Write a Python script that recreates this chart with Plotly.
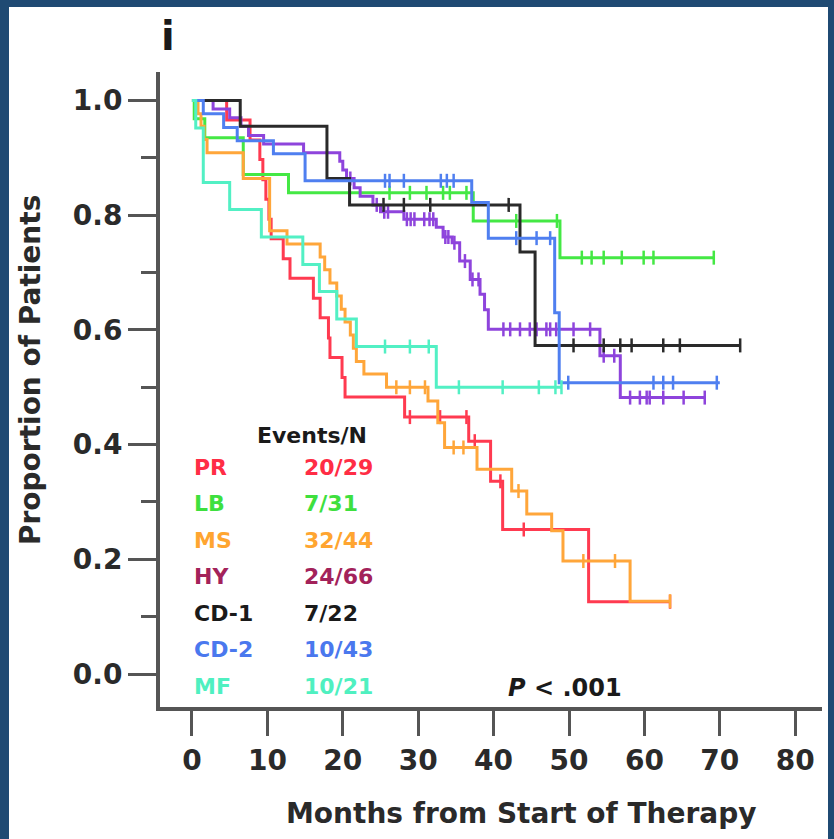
import plotly.graph_objects as go

# ---------------- data ----------------
groups = ["PR", "LB", "MS", "HY", "CD-1", "CD-2", "MF"]
events_n = ["20/29", "7/31", "32/44", "24/66", "7/22", "10/43", "10/21"]

pr_t = [4.6, 7.7, 9.0, 9.4, 9.8, 10.2, 10.5, 12.1, 13.0, 16.1, 17.0, 18.1, 18.3, 19.9, 20.3, 28.2, 36.7, 39.6, 41.2, 52.6]
pr_s = [0.966, 0.931, 0.897, 0.862, 0.828, 0.793, 0.759, 0.724, 0.690, 0.655, 0.621, 0.586, 0.552, 0.517, 0.483, 0.448, 0.406, 0.336, 0.252, 0.126]
pr_end = 63.4
pr_cens = [28.9, 32.9, 36.4, 37.5, 40.9, 44.0, 63.4]

lb_t = [0.3, 1.7, 6.8, 12.8, 37.3, 48.8]
lb_s = [0.968, 0.935, 0.871, 0.839, 0.790, 0.726]
lb_end = 69.2
lb_cens = [26.2, 28.9, 31.1, 33.3, 34.2, 36.4, 43.0, 48.4, 51.7, 53.0, 54.6, 57.0, 59.9, 61.2, 69.2]

ms_t = [0.8, 1.2, 1.6, 2.0, 6.8, 10.3, 12.6, 17.0, 17.6, 18.3, 19.2, 19.8, 20.3, 21.0, 21.4, 21.8, 22.8, 25.8,
        31.3, 32.6, 33.5, 37.8, 42.4, 44.4, 47.7, 49.2, 58.1]
ms_s = [0.977, 0.955, 0.932, 0.909, 0.864, 0.773, 0.750, 0.727, 0.705, 0.682, 0.659, 0.636, 0.614, 0.591, 0.568, 0.545, 0.523, 0.500,
        0.476, 0.438, 0.395, 0.357, 0.319, 0.279, 0.250, 0.197, 0.127]
ms_end = 63.4
ms_cens = [27.1, 28.9, 30.9, 34.7, 36.0, 43.3, 51.9, 56.1, 63.4]

hy_t = [2.8, 5.0, 6.5, 7.5, 9.5, 14.8, 19.6, 20.0, 20.5, 21.5, 22.3, 24.0, 25.0, 28.1, 32.4, 33.3, 34.5, 35.5, 36.9, 38.2, 38.8, 39.3, 54.1, 56.8]
hy_s = [0.985, 0.970, 0.955, 0.939, 0.924, 0.909, 0.894, 0.879, 0.864, 0.848, 0.833, 0.818, 0.806, 0.793, 0.779, 0.762, 0.752, 0.720, 0.688, 0.662, 0.635, 0.601, 0.555, 0.482]
hy_end = 68.0
hy_cens = [21.0, 24.5, 25.5, 26.0, 28.5, 29.0, 29.5, 30.8, 31.5, 32.0, 33.6, 34.0, 34.8, 36.2, 37.2, 38.0, 41.3, 42.2, 43.5, 44.8,
           45.7, 47.0, 47.5, 48.3, 50.6, 52.8, 54.6, 56.0, 58.1, 59.4, 60.3, 60.7, 62.5, 65.2, 68.0]

cd1_t = [6.4, 17.9, 20.9, 43.5, 45.5]
cd1_s = [0.955, 0.864, 0.818, 0.736, 0.573]
cd1_end = 72.7
cd1_cens = [25.4, 28.1, 31.6, 42.0, 50.6, 54.6, 56.8, 58.3, 62.5, 64.7, 72.7]

cd2_t = [1.5, 4.2, 6.0, 10.8, 15.0, 37.1, 39.3, 48.1, 48.7]
cd2_s = [0.977, 0.953, 0.930, 0.907, 0.860, 0.822, 0.760, 0.630, 0.508]
cd2_end = 70.0
cd2_cens = [25.6, 26.2, 28.1, 33.0, 33.8, 34.7, 43.0, 45.7, 47.5, 49.9, 61.2, 62.5, 63.8, 69.6]

mf_t = [0.5, 1.5, 5.0, 9.2, 14.7, 16.9, 19.2, 21.8, 32.4]
mf_s = [0.952, 0.857, 0.810, 0.762, 0.714, 0.667, 0.619, 0.571, 0.500]
mf_end = 49.0
mf_cens = [25.6, 28.9, 31.4, 35.4, 41.2, 46.0, 48.2, 49.0]

x_ticks = [0, 10, 20, 30, 40, 50, 60, 70, 80]
y_ticks = [0.0, 0.2, 0.4, 0.6, 0.8, 1.0]

# ---------------- styles ----------------
line_colors = ["#ff3a50", "#44e844", "#ffa63a", "#8e44dc", "#2a2a2a", "#4f7ff0", "#52f0c4"]
text_colors = ["#ff2d45", "#3ee03e", "#ffa530", "#a3225a", "#1a1a1a", "#4a78ee", "#4ff0c0"]

curves = [
    (pr_t, pr_s, pr_end, pr_cens),
    (lb_t, lb_s, lb_end, lb_cens),
    (ms_t, ms_s, ms_end, ms_cens),
    (hy_t, hy_s, hy_end, hy_cens),
    (cd1_t, cd1_s, cd1_end, cd1_cens),
    (cd2_t, cd2_s, cd2_end, cd2_cens),
    (mf_t, mf_s, mf_end, mf_cens),
]


def surv_at(times, levels, t):
    s = 1.0
    for ti, si in zip(times, levels):
        if ti <= t:
            s = si
    return s


fig = go.Figure()
for (t, s, end, cens), col in zip(curves, line_colors):
    xs = [0] + list(t) + [end]
    ys = [1.0] + list(s) + [s[-1]]
    fig.add_trace(go.Scatter(x=xs, y=ys, mode="lines", line=dict(color=col, width=3, shape="hv"),
                             showlegend=False, hoverinfo="skip"))
    fig.add_trace(go.Scatter(x=cens, y=[surv_at(t, s, c) for c in cens], mode="markers",
                             marker=dict(symbol="line-ns", size=10, line=dict(color=col, width=2.5)),
                             showlegend=False, hoverinfo="skip"))

FONT = "DejaVu Sans"
AXC = "#555555"

fig.update_layout(
    width=834, height=839,
    margin=dict(l=160, r=12, t=72, b=132),
    paper_bgcolor="white", plot_bgcolor="white",
    font=dict(family=FONT, color="#2a2a2a"),
    xaxis=dict(range=[-4.24, 83.55], tickvals=x_ticks, ticks="outside", ticklen=25, tickwidth=3,
               tickcolor=AXC, showline=True, linewidth=4, linecolor=AXC, showgrid=False, zeroline=False,
               tickfont=dict(family=FONT, size=28, color="#2a2a2a", weight="bold")),
    yaxis=dict(range=[-0.0575, 1.0497], tickvals=y_ticks, tickformat=".1f", ticks="outside", ticklen=28,
               tickwidth=3, tickcolor=AXC, showline=True, linewidth=4, linecolor=AXC, showgrid=False,
               zeroline=False, tickfont=dict(family=FONT, size=28, color="#2a2a2a", weight="bold"),
               minor=dict(ticks="outside", ticklen=15, tickwidth=3, tickcolor=AXC, tick0=0.1, dtick=0.2,
                          showgrid=False)),
)


def px2paper_x(px):
    return (px - 160) / 662.0


def py2paper_y(py):
    return (707 - py) / 635.0


# dark blue frame
FRAME = "#1f4a73"
fig.add_shape(type="rect", xref="paper", yref="paper", x0=px2paper_x(0), x1=px2paper_x(9),
              y0=py2paper_y(839), y1=py2paper_y(0), fillcolor=FRAME, line_width=0, layer="below")
fig.add_shape(type="rect", xref="paper", yref="paper", x0=px2paper_x(0), x1=px2paper_x(834),
              y0=py2paper_y(7), y1=py2paper_y(0), fillcolor=FRAME, line_width=0, layer="below")
fig.add_shape(type="rect", xref="paper", yref="paper", x0=px2paper_x(828), x1=px2paper_x(834),
              y0=py2paper_y(839), y1=py2paper_y(0), fillcolor=FRAME, line_width=0, layer="below")


def label(px, py, text, size, color, xanchor="center", angle=0):
    fig.add_annotation(xref="paper", yref="paper", x=px2paper_x(px), y=py2paper_y(py),
                       xanchor=xanchor, yanchor="middle", text=text, showarrow=False, textangle=angle,
                       font=dict(family=FONT, size=size, color=color, weight="bold"))


# titles
label(521, 813, "Months from Start of Therapy", 28, "#2a2a2a")
label(30, 370, "Proportion of Patients", 28, "#2a2a2a", angle=-90)
label(168, 36, "i", 40, "#1a1a1a")

# events table
label(312, 435, "Events/N", 22, "#1a1a1a")
row_py0, row_dy = 467, 36.5
for i, (g, en, tc) in enumerate(zip(groups, events_n, text_colors)):
    py = row_py0 + i * row_dy
    label(192, py, g, 22, tc, xanchor="left")
    label(302, py, en, 22, tc, xanchor="left")

label(565, 688, "<i>P</i> < .001", 24, "#1a1a1a")

fig.write_html("out.html")
